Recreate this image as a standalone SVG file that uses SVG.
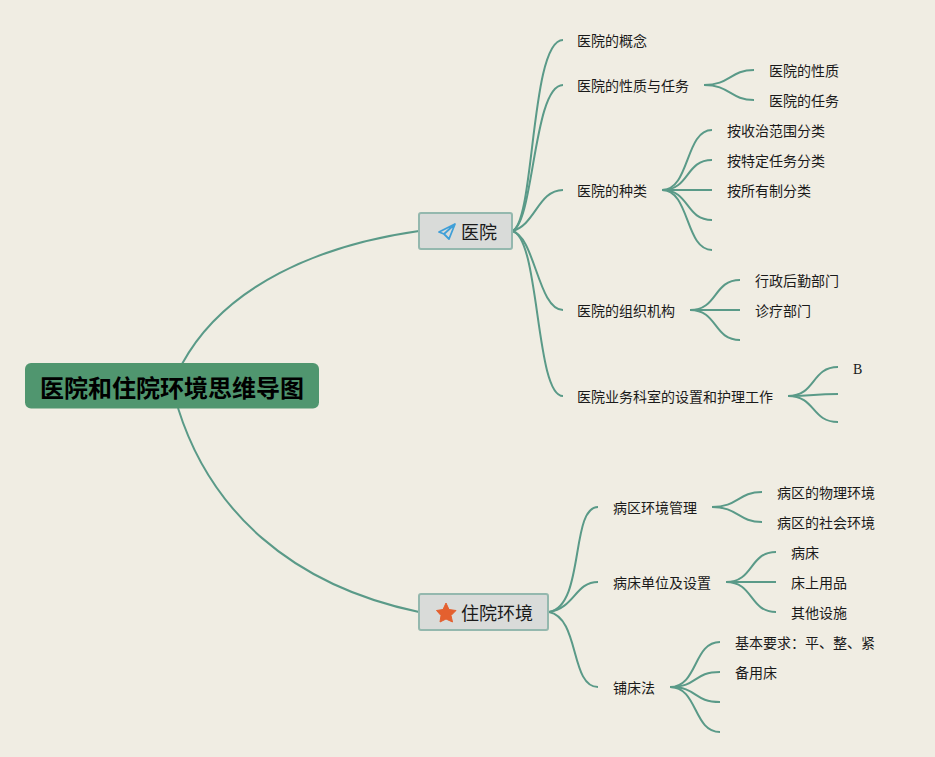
<svg xmlns="http://www.w3.org/2000/svg" width="935" height="757" viewBox="0 0 935 757">
<style>
.c{fill:none;stroke:#5a9a88;stroke-width:2;stroke-linecap:butt}
text{font-family:"Noto Sans CJK SC","Liberation Sans",sans-serif;fill:#1a1a1a}
.t{font-size:14px}
.m{font-size:18px}
.box{fill:#d9dbd9;stroke:#94b8ae;stroke-width:2}
</style>
<rect width="935" height="757" fill="#f0ede3"/>
<g id="connectors">
<path class="c" d="M182,364C225,285 320,245 419,231"/>
<path class="c" d="M178,408C210,510 290,585 419,612"/>
<path class="c" d="M512,231C535,225 530,40 563,40"/>
<path class="c" d="M512,231C534,225 533,85 563,85"/>
<path class="c" d="M512,231C535,226 538,190 563,190"/>
<path class="c" d="M512,231C535,236 538,310 563,310"/>
<path class="c" d="M512,231C540,236 535,396 563,396"/>
<path class="c" d="M704,85C730,85 730,70 754,70"/>
<path class="c" d="M704,85C730,85 730,100 754,100"/>
<path class="c" d="M662,190C690,190 685,130 712,130"/>
<path class="c" d="M662,190C690,190 685,160 712,160"/>
<path class="c" d="M662,190H712"/>
<path class="c" d="M662,190C690,190 685,220 712,220"/>
<path class="c" d="M662,190C690,190 685,250 712,250"/>
<path class="c" d="M690,310C718,310 713,280 740,280"/>
<path class="c" d="M690,310H740"/>
<path class="c" d="M690,310C718,310 713,340 740,340"/>
<path class="c" d="M788,396C816,396 811,367 838,367"/>
<path class="c" d="M788,396C816,396 811,394 838,394"/>
<path class="c" d="M788,396C816,396 811,422 838,422"/>
<path class="c" d="M549,612C585,606 570,507 598,507"/>
<path class="c" d="M549,612C575,608 575,582 598,582"/>
<path class="c" d="M549,612C580,618 570,687 598,687"/>
<path class="c" d="M712,507C738,507 738,492 762,492"/>
<path class="c" d="M712,507C738,507 738,522 762,522"/>
<path class="c" d="M726,582C754,582 749,552 776,552"/>
<path class="c" d="M726,582H776"/>
<path class="c" d="M726,582C754,582 749,612 776,612"/>
<path class="c" d="M670,687C698,687 693,642 720,642"/>
<path class="c" d="M670,687C698,687 693,672 720,672"/>
<path class="c" d="M670,687C698,687 693,702 720,702"/>
<path class="c" d="M670,687C698,687 693,732 720,732"/>
</g>
<g id="root"><rect x="25" y="363" width="294" height="45.500" rx="6" fill="#50966f"/><text x="172" y="397" font-size="24" font-weight="700" text-anchor="middle" style="fill:#000">医院和住院环境思维导图</text></g>
<g id="n-hospital"><rect class="box" x="419" y="213" width="93" height="36" rx="2"/><path d="M455,224L439,232L444,234L449,239Z M444,234L455,224" fill="none" stroke="#3f9fd8" stroke-width="1.800" stroke-linejoin="round"/><text class="m" x="461" y="239">医院</text></g>
<g id="n-inpatient"><rect class="box" x="419" y="594" width="129" height="36" rx="2"/><path d="M446,603L449,609.500L456,610.500L451,615.500L452.500,622L446,619L440,622L441,615.500L436.500,610.500L443,609.500Z" fill="#e4602f" stroke="#e4602f" stroke-linejoin="round"/><text class="m" x="461" y="620">住院环境</text></g>
<g id="n1"><text class="t" x="577" y="46">医院的概念</text></g>
<g id="n2"><text class="t" x="577" y="91">医院的性质与任务</text></g>
<g id="n2a"><text class="t" x="769" y="76">医院的性质</text></g>
<g id="n2b"><text class="t" x="769" y="106">医院的任务</text></g>
<g id="n3"><text class="t" x="577" y="196">医院的种类</text></g>
<g id="n3a"><text class="t" x="727" y="136">按收治范围分类</text></g>
<g id="n3b"><text class="t" x="727" y="166">按特定任务分类</text></g>
<g id="n3c"><text class="t" x="727" y="196">按所有制分类</text></g>
<g id="n4"><text class="t" x="577" y="316">医院的组织机构</text></g>
<g id="n4a"><text class="t" x="755" y="286">行政后勤部门</text></g>
<g id="n4b"><text class="t" x="755" y="316">诊疗部门</text></g>
<g id="n5"><text class="t" x="577" y="402">医院业务科室的设置和护理工作</text></g>
<g id="n5a"><text x="853" y="374" font-size="14" style="font-family:'Liberation Serif',serif">B</text></g>
<g id="n6"><text class="t" x="613" y="513">病区环境管理</text></g>
<g id="n6a"><text class="t" x="777" y="498">病区的物理环境</text></g>
<g id="n6b"><text class="t" x="777" y="528">病区的社会环境</text></g>
<g id="n7"><text class="t" x="613" y="588">病床单位及设置</text></g>
<g id="n7a"><text class="t" x="791" y="558">病床</text></g>
<g id="n7b"><text class="t" x="791" y="588">床上用品</text></g>
<g id="n7c"><text class="t" x="791" y="618">其他设施</text></g>
<g id="n8"><text class="t" x="613" y="693">铺床法</text></g>
<g id="n8a"><text class="t" x="735" y="648">基本要求：平、整、紧</text></g>
<g id="n8b"><text class="t" x="735" y="678">备用床</text></g>
</svg>
